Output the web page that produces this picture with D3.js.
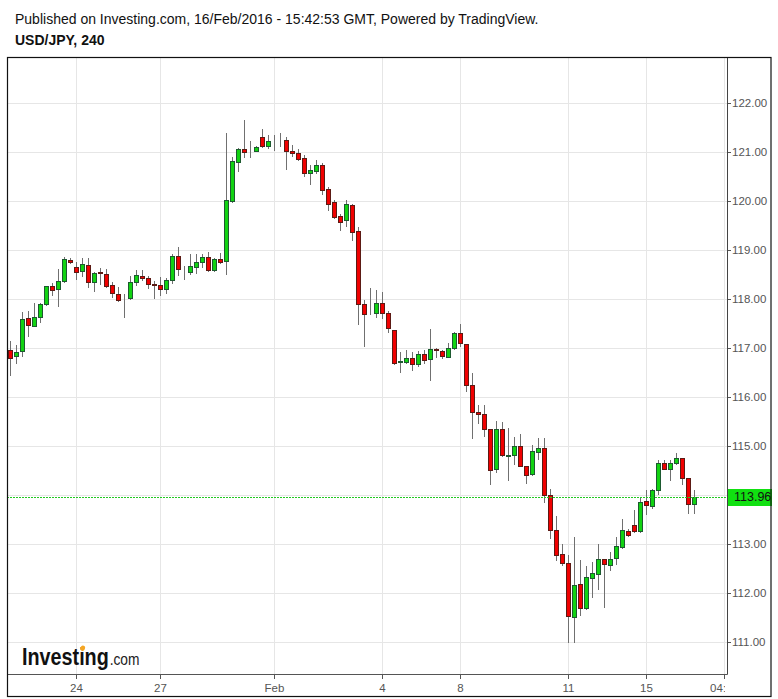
<!DOCTYPE html>
<html>
<head>
<meta charset="utf-8">
<script src="https://cdn.jsdelivr.net/npm/d3@7/dist/d3.min.js"></script>
<style>
  html, body { margin: 0; padding: 0; background: #fff; }
  svg { display: block; }
  text { font-family: "Liberation Sans", Arial, sans-serif; }
</style>
</head>
<body>
<svg id="chart" width="778" height="699"></svg>
<script>
// ---- Data (USD/JPY, 4-hour candles) ----
const openVals = [116.95,116.83,116.93,117.61,117.44,117.63,117.89,118.26,118.20,118.36,
  118.79,118.65,118.57,118.69,118.35,118.55,118.52,118.28,118.10,117.99,
  118.03,118.34,118.46,118.42,118.30,118.28,118.20,118.38,118.87,118.60,
  118.56,118.65,118.75,118.85,118.59,118.81,118.77,120.01,120.80,121.06,
  121.02,121.03,121.30,121.13,121.22,121.24,121.24,121.03,120.98,120.87,
  120.58,120.62,120.73,120.24,119.98,119.69,119.61,119.91,119.38,117.90,
  117.72,117.71,117.91,117.71,117.36,116.72,116.72,116.79,116.68,116.87,
  116.77,116.97,116.93,116.81,117.01,117.30,117.08,116.24,115.69,115.65,
  115.34,114.54,115.34,114.80,114.81,115.01,114.59,114.42,114.87,114.95,
  114.01,113.28,112.79,112.61,111.52,112.18,111.69,112.30,112.38,112.69,
  112.58,112.71,112.93,113.26,113.38,113.26,113.87,113.77,114.10,114.65,
  114.54,114.65,114.75,114.34,113.82];
const highVals = [117.14,117.06,117.73,117.76,117.92,117.92,118.27,118.32,118.61,118.86,
  118.83,118.75,118.83,118.83,118.55,118.63,118.61,118.34,118.24,118.10,
  118.47,118.59,118.59,118.47,118.37,118.44,118.42,118.91,119.07,118.67,
  118.91,118.91,118.91,118.95,118.83,118.93,121.39,120.90,121.09,121.65,
  121.22,121.12,121.46,121.35,121.35,121.39,121.31,121.14,121.06,120.93,
  120.73,120.83,120.77,120.28,120.02,119.73,120.02,119.93,119.46,117.98,
  118.22,118.18,118.14,117.76,117.36,116.91,116.95,116.91,116.93,116.95,
  117.38,117.00,116.96,117.10,117.32,117.50,117.08,116.49,115.83,115.83,
  115.35,115.50,115.49,115.37,115.18,115.24,114.59,115.02,115.16,115.16,
  114.12,113.57,113.00,112.77,113.14,112.67,112.55,112.63,113.00,112.70,
  112.83,113.14,113.51,113.30,113.69,113.95,114.10,114.12,114.71,114.71,
  114.71,114.85,114.76,114.35,114.10];
const lowVals = [116.45,116.70,116.84,117.25,117.44,117.54,117.87,118.08,117.86,118.35,
  118.74,118.41,118.46,118.25,118.17,118.31,118.25,118.05,117.96,117.64,
  118.01,118.28,118.39,118.23,118.03,118.08,118.13,118.32,118.48,118.40,
  118.52,118.54,118.66,118.57,118.58,118.74,118.52,119.97,120.61,120.90,
  120.90,121.02,121.11,121.09,121.04,121.13,120.65,120.92,120.84,120.52,
  120.35,120.57,120.15,119.82,119.66,119.41,119.50,119.20,117.50,117.05,
  117.69,117.64,117.62,117.33,116.68,116.52,116.70,116.56,116.64,116.69,
  116.35,116.82,116.80,116.81,116.97,117.04,116.12,115.17,115.46,115.21,
  114.22,114.46,114.80,114.31,114.64,114.59,114.25,114.41,114.73,113.85,
  113.12,112.67,112.57,110.99,110.99,111.56,111.68,111.91,112.08,111.71,
  112.47,112.60,112.92,113.17,113.25,113.25,113.61,113.73,114.03,114.54,
  114.30,114.64,114.23,113.64,113.64];
const closeVals = [116.79,116.91,117.59,117.46,117.63,117.89,118.26,118.19,118.36,118.81,
  118.75,118.56,118.71,118.35,118.54,118.54,118.26,118.12,117.97,118.00,
  118.34,118.48,118.42,118.30,118.29,118.20,118.38,118.87,118.61,118.59,
  118.67,118.75,118.85,118.59,118.81,118.75,120.02,120.82,121.06,121.01,
  121.03,121.10,121.13,121.22,121.23,121.25,121.03,120.97,120.86,120.58,
  120.63,120.73,120.23,119.94,119.68,119.58,119.93,119.37,117.90,117.69,
  117.71,117.91,117.71,117.40,116.70,116.73,116.79,116.67,116.87,116.75,
  116.97,116.96,116.84,117.01,117.30,117.10,116.24,115.69,115.65,115.34,
  114.52,115.34,114.81,114.81,114.99,114.60,114.40,114.89,114.95,113.99,
  113.28,112.77,112.61,111.54,112.16,111.69,112.32,112.40,112.69,112.59,
  112.69,112.95,113.28,113.18,113.26,113.85,113.79,114.10,114.65,114.54,
  114.65,114.75,114.35,113.81,113.96];

const priceTicks = [111,112,113,114,115,116,117,118,119,120,121,122];
const timeTickIndex = [11, 25, 44, 62, 75, 93, 106, 119];
const timeTickLabels = ["24", "27", "Feb", "4", "8", "11", "15", "04:00"];
const lastPrice = 113.96;

const titleText = "Published on Investing.com, 16/Feb/2016 - 15:42:53 GMT, Powered by TradingView.";
const symbolText = "USD/JPY, 240";

// ---- Layout ----
const frame = {left: 7, top: 57, right: 771.5, bottom: 696};
const plot = {left: 7, top: 57, right: 727, bottom: 674};

const candles = openVals.map((o, i) => ({i, o, h: highVals[i], l: lowVals[i], c: closeVals[i]}));

const x = d3.scaleLinear().domain([0, 119]).range([10.5, 724.5]);
const y = d3.scaleLinear().domain([111, 122]).range([642, 103]);
const py = v => Math.round(y(v)) + 0.5;

const svg = d3.select("#chart");

// titles
svg.append("text").attr("x", 15).attr("y", 24).attr("font-size", 14).attr("fill", "#111").text(titleText);
svg.append("text").attr("x", 15).attr("y", 45).attr("font-size", 14).attr("font-weight", "bold").attr("fill", "#111").text(symbolText);

// clip
svg.append("clipPath").attr("id", "plotclip").append("rect")
  .attr("x", plot.left).attr("y", plot.top).attr("width", plot.right - plot.left).attr("height", plot.bottom - plot.top);

const grid = svg.append("g").attr("clip-path", "url(#plotclip)");
grid.selectAll("line.h").data(priceTicks).join("line")
  .attr("x1", plot.left).attr("x2", plot.right)
  .attr("y1", d => py(d)).attr("y2", d => py(d))
  .attr("stroke", "#e6e6e6").attr("stroke-width", 1);
grid.selectAll("line.v").data(timeTickIndex).join("line")
  .attr("x1", d => x(d)).attr("x2", d => x(d))
  .attr("y1", plot.top).attr("y2", plot.bottom)
  .attr("stroke", "#e6e6e6").attr("stroke-width", 1);

// logo (single text element, horizontally condensed)
const logoScale = 0.86;
const logo = svg.append("g").attr("transform", `translate(22,665) scale(${logoScale},1)`);
const logoText = logo.append("text").attr("x", 0).attr("y", 0);
logoText.append("tspan").attr("font-size", 23).attr("font-weight", "bold").attr("fill", "#111").text("Investing");
logoText.append("tspan").attr("font-size", 16).attr("fill", "#222").attr("dx", 1).text(".com");
let dotX = 84.6 / 1;
try {
  const ext = logoText.node().getExtentOfChar(6);
  dotX = 22 + logoScale * (ext.x + ext.width / 2) + 0.8;
} catch (e) {}
svg.append("ellipse").attr("cx", dotX).attr("cy", 648.2).attr("rx", 2.3).attr("ry", 2.7)
  .attr("transform", `rotate(25 ${dotX} 648.2)`).attr("fill", "#f5a623");

// candles
const cg = svg.append("g").attr("clip-path", "url(#plotclip)");
cg.selectAll("line.wick").data(candles).join("line").attr("class", "wick")
  .attr("x1", d => x(d.i)).attr("x2", d => x(d.i))
  .attr("y1", d => py(d.h) - 0.5).attr("y2", d => py(d.l) + 0.5)
  .attr("stroke", "#707070").attr("stroke-width", 1);
cg.selectAll("rect.body").data(candles).join("rect").attr("class", "body")
  .attr("x", d => x(d.i) - 2).attr("width", 4)
  .attr("y", d => Math.min(py(d.o), py(d.c)))
  .attr("height", d => Math.abs(py(d.o) - py(d.c)))
  .attr("fill", d => d.c >= d.o ? "#12d312" : "#f00000")
  .attr("stroke", d => d.c >= d.o ? "#1d5a30" : "#5c1a14")
  .attr("stroke-width", 1);

// last price line
svg.append("line").attr("x1", plot.left).attr("x2", plot.right)
  .attr("y1", py(lastPrice)).attr("y2", py(lastPrice))
  .attr("stroke", "#22c922").attr("stroke-width", 1).attr("stroke-dasharray", "2,1");

// axes lines
svg.append("line").attr("x1", plot.right + 0.5).attr("x2", plot.right + 0.5)
  .attr("y1", plot.top).attr("y2", plot.bottom + 0.5).attr("stroke", "#444");
svg.append("line").attr("x1", plot.left).attr("x2", plot.right + 0.5)
  .attr("y1", plot.bottom + 0.5).attr("y2", plot.bottom + 0.5).attr("stroke", "#555");

// right price axis (labels hidden behind the last-price box are not drawn)
const visibleTicks = priceTicks.filter(d => Math.abs(y(d) - y(lastPrice)) > 12);
const ya = svg.append("g");
ya.selectAll("line").data(priceTicks).join("line")
  .attr("x1", plot.right + 1).attr("x2", plot.right + 4)
  .attr("y1", d => py(d)).attr("y2", d => py(d)).attr("stroke", "#555");
ya.selectAll("text").data(visibleTicks).join("text")
  .attr("x", 732).attr("y", d => y(d) + 4).attr("font-size", 11.5).attr("fill", "#555")
  .text(d => d3.format(".2f")(d));

// last price box
svg.append("rect").attr("x", plot.right + 1).attr("y", py(lastPrice) - 8.5).attr("width", 44).attr("height", 17)
  .attr("fill", "#11e011");
svg.append("text").attr("x", 734).attr("y", y(lastPrice) + 4.5).attr("font-size", 12.5).attr("fill", "#111")
  .text(d3.format(".2f")(lastPrice));

// bottom time axis
svg.append("clipPath").attr("id", "xclip").append("rect")
  .attr("x", plot.left).attr("y", plot.bottom).attr("width", plot.right - plot.left - 2).attr("height", 22);
const xa = svg.append("g").attr("clip-path", "url(#xclip)");
xa.selectAll("line").data(timeTickIndex).join("line")
  .attr("x1", d => x(d)).attr("x2", d => x(d))
  .attr("y1", plot.bottom + 1).attr("y2", plot.bottom + 5).attr("stroke", "#555");
xa.selectAll("text").data(timeTickIndex).join("text")
  .attr("x", d => x(d)).attr("y", 692).attr("text-anchor", "middle")
  .attr("font-size", 11.5).attr("fill", "#555")
  .text((d, k) => timeTickLabels[k]);

// outer frame
svg.append("rect").attr("x", frame.left + 0.5).attr("y", frame.top + 0.5)
  .attr("width", frame.right - frame.left - 1).attr("height", frame.bottom - frame.top)
  .attr("fill", "none").attr("stroke", "#111").attr("stroke-width", 1.2);
</script>
</body>
</html>
